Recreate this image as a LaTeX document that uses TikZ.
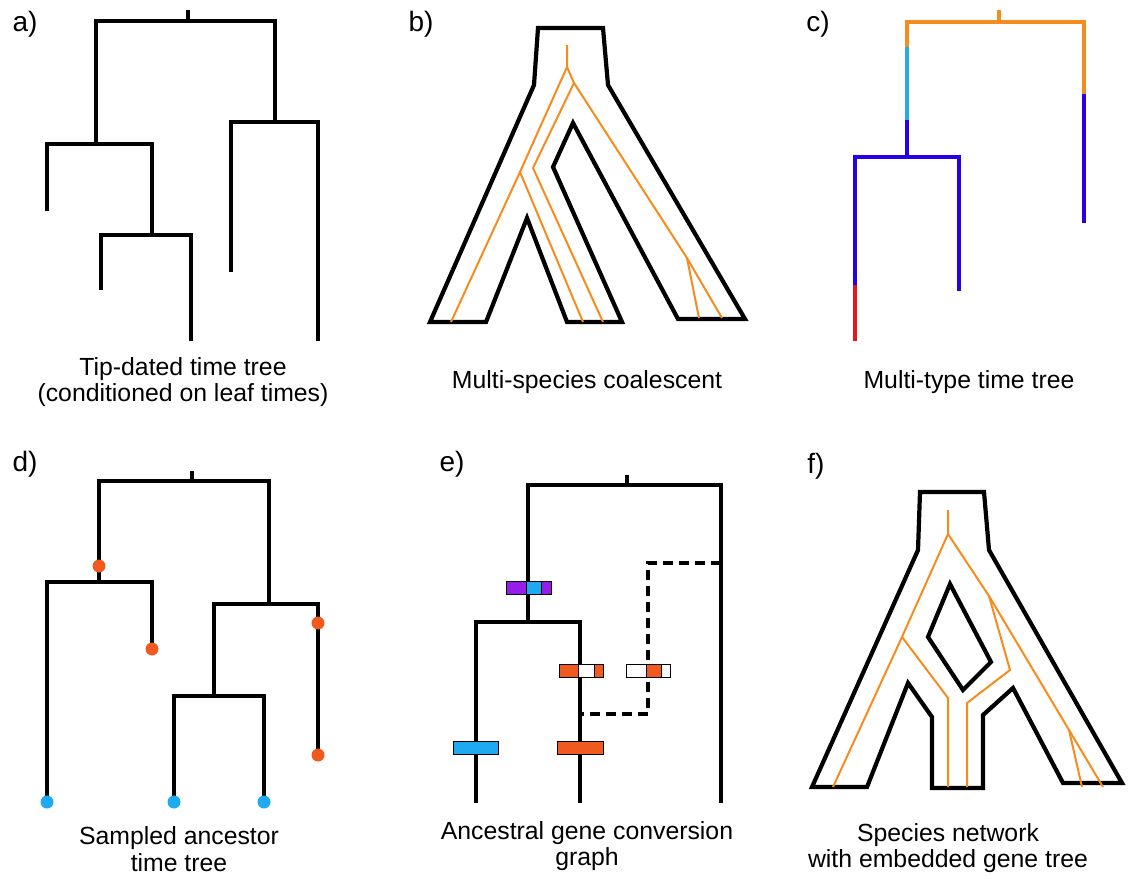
\documentclass[tikz,border=0pt]{standalone}
\usepackage{fontspec}
\setmainfont{Liberation Sans}
\usepackage{xcolor}
\usepackage{tikz}
\usetikzlibrary{calc}

\definecolor{geneorange}{RGB}{246,140,30}
\definecolor{typelight}{RGB}{40,170,230}
\definecolor{typeblue}{RGB}{40,0,232}
\definecolor{typered}{RGB}{228,22,30}
\definecolor{sampleorange}{RGB}{240,90,30}
\definecolor{samplecyan}{RGB}{30,170,240}
\definecolor{convpurple}{RGB}{150,30,230}

\begin{document}
\begin{tikzpicture} [x=1pt, y=-1pt,
       branch/.style = {line width=4.2pt, line join=miter},
       typebranch/.style = {line width=4.2pt, draw=#1},
       speciesoutline/.style = {line width=4.2pt, line join=miter},
       genelineage/.style = {line width=2pt, draw=geneorange, line join=round},
       sampledot/.style = {circle, inner sep=0pt, minimum size=13pt, fill=#1},
       segment/.style = {draw=black, line width=0.8pt, fill=#1},
       caption/.style = {font=\fontsize{24.8}{26.5}\selectfont, align=center},
       panellabel/.style = {font=\fontsize{28}{30}\selectfont}]
	\useasboundingbox (0,0) rectangle (1134,878);

	%% a) tip-dated tree
	\node [panellabel] (laba) at (25,24) {a)};
	\draw [branch] (188,10) -- (188,21);
	\draw [branch] (96,144) |- (275,21) -- (275,122);
	\draw [branch] (47,211) |- (152,144) -- (152,235);
	\draw [branch] (101,290) |- (191,235) -- (191,341);
	\draw [branch] (231,272) |- (318,122) -- (318,341);
	\node [caption] (capa) at (183,382) {Tip-dated time tree\\(conditioned on leaf times)};

	%% b) multi-species coalescent
	\node [panellabel] (labb) at (421,24) {b)};
	\draw [speciesoutline] (538,28) -- (603,28) -- (608,85) -- (745,319) -- (678,319)
	      -- (573,123) -- (553,167) -- (622,322) -- (567,322) -- (527,218)
	      -- (486,322) -- (430,322) -- (534,85) -- cycle;
	\draw [genelineage] (567,45) -- (567,67) -- (520,172) -- (451,322);
	\draw [genelineage] (520,172) -- (583,322);
	\draw [genelineage] (567,67) -- (574,83) -- (533,168) -- (603,322);
	\draw [genelineage] (574,83) -- (687,258) -- (722,318);
	\draw [genelineage] (687,258) -- (699,318);
	\node [caption] (capb) at (587,382) {Multi-species coalescent};

	%% c) multi-type tree
	\node [panellabel] (labc) at (818,24) {c)};
	\draw [typebranch=geneorange] (999,10) -- (999,22);
	\draw [typebranch=geneorange] (907,47) |- (1084,22) -- (1084,94);
	\draw [typebranch=typelight] (907,47) -- (907,120);
	\draw [typebranch=typeblue] (907,120) -- (907,157);
	\draw [typebranch=typeblue] (855,285) |- (959,157) -- (959,291);
	\draw [typebranch=typeblue] (1084,94) -- (1084,223);
	\draw [typebranch=typered] (855,285) -- (855,341);
	\node [caption] (capc) at (969,382) {Multi-type time tree};

	%% d) sampled ancestors
	\node [panellabel] (labd) at (25,464) {d)};
	\draw [branch] (192,471) -- (192,481);
	\draw [branch] (99,582) |- (269,481) -- (269,604);
	\draw [branch] (47,802) |- (152,582) -- (152,649);
	\draw [branch] (174,802) |- (214,696) -- (264,696) -- (264,802);
	\draw [branch] (214,696) |- (318,604) -- (318,755);
	\node [sampledot=sampleorange] (sa1) at (99,566) {};
	\node [sampledot=sampleorange] (sa2) at (152,649) {};
	\node [sampledot=sampleorange] (sa3) at (318,623) {};
	\node [sampledot=sampleorange] (sa4) at (318,755) {};
	\node [sampledot=samplecyan] (tip1) at (47,802) {};
	\node [sampledot=samplecyan] (tip2) at (174,802) {};
	\node [sampledot=samplecyan] (tip3) at (264,802) {};
	\node [caption] (capd) at (179,849) {Sampled ancestor\\time tree};

	%% e) gene conversion graph
	\node [panellabel] (labe) at (452,464) {e)};
	\draw [branch] (627,475) -- (627,485);
	\draw [branch] (528,622) |- (721,485) -- (721,803);
	\draw [branch] (476,803) |- (580,622) -- (580,803);
	\draw [branch, dash pattern=on 10pt off 6pt] (721,563) -| (648,714) -- (580,714);
	% marker bars
	\draw [segment=convpurple] (506,581) rectangle (526,594);
	\draw [segment=samplecyan] (526,581) rectangle (541,594);
	\draw [segment=convpurple] (541,581) rectangle (551,594);
	\draw [segment=sampleorange] (559,664) rectangle (578,677);
	\draw [segment=white] (578,664) rectangle (594,677);
	\draw [segment=sampleorange] (594,664) rectangle (603,677);
	\draw [segment=white] (626,664) rectangle (646,677);
	\draw [segment=sampleorange] (646,664) rectangle (661,677);
	\draw [segment=white] (661,664) rectangle (670,677);
	\draw [segment=samplecyan] (453,741) rectangle (498,754);
	\draw [segment=sampleorange] (557,741) rectangle (603,754);
	\node [caption] (cape) at (587,846) {Ancestral gene conversion\\graph};

	%% f) species network
	\node [panellabel] (labf) at (816,466) {f)};
	\draw [speciesoutline] (920,492) -- (984,492) -- (989,550) -- (1122,783) -- (1063,783)
	      -- (1013,688) -- (983,715) -- (983,788) -- (932,788) -- (932,717)
	      -- (908,683) -- (867,787) -- (812,787) -- (918,550) -- cycle;
	\draw [speciesoutline] (950,584) -- (991,662) -- (963,690) -- (928,637) -- cycle;
	\draw [genelineage] (948,510) -- (948,534) -- (902,637) -- (833,787);
	\draw [genelineage] (902,637) -- (948,698) -- (948,787);
	\draw [genelineage] (948,534) -- (989,596) -- (1069,730) -- (1103,787);
	\draw [genelineage] (1069,730) -- (1082,787);
	\draw [genelineage] (989,596) -- (1010,670) -- (967,703) -- (967,787);
	\node [caption] (capf) at (948,848) {Species network\\with embedded gene tree};
\end{tikzpicture}
\end{document}
